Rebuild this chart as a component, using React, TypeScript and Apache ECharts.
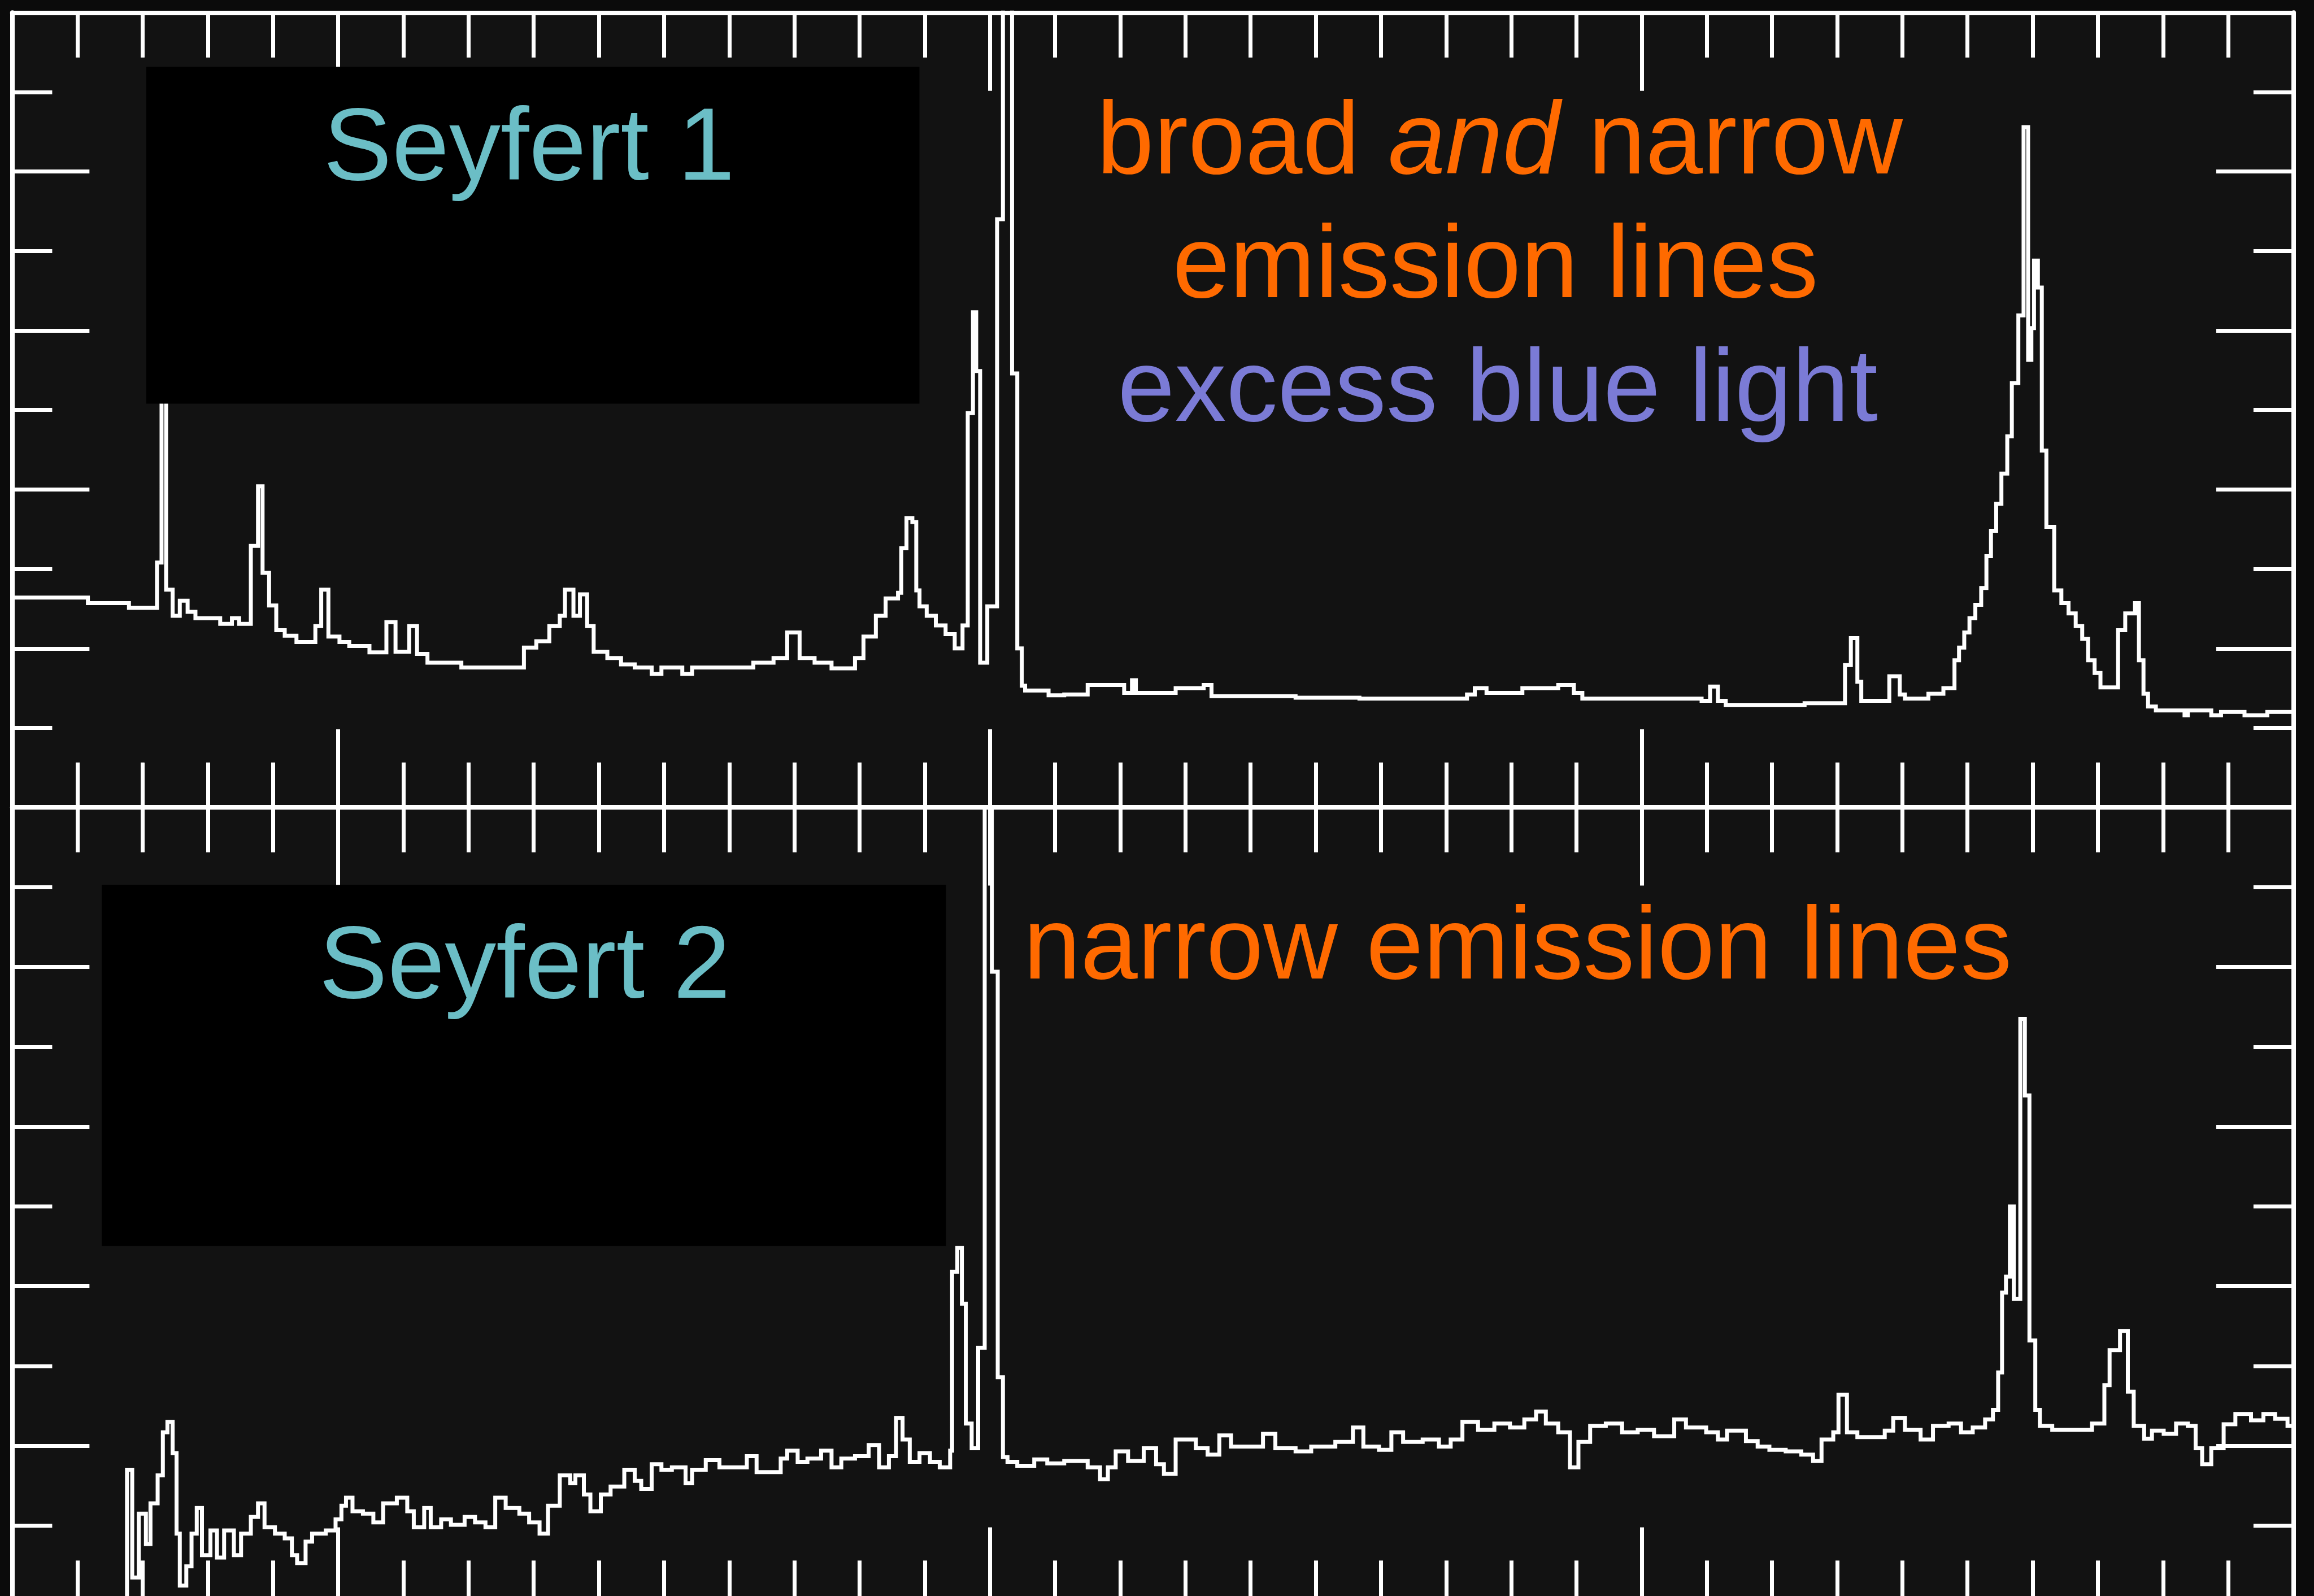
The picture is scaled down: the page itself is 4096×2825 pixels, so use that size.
import React, { useEffect, useRef } from 'react';
import * as echarts from 'echarts';

// ---- data: wavelength (Å) / relative flux (tick units) ----
const seyfert1Spectrum: [number, number][] = [
  [3500, 2.64], [3616, 2.57], [3679, 2.51], [3722, 3.08], [3729, 5.3], [3736, 2.74], [3746, 2.41],
  [3757, 2.6], [3769, 2.46], [3781, 2.38], [3819, 2.31], [3837, 2.38], [3848, 2.31], [3866, 3.29],
  [3877, 4.04], [3884, 2.95], [3894, 2.54], [3905, 2.23], [3918, 2.16], [3936, 2.08], [3965, 2.28],
  [3974, 2.74], [3985, 2.15], [4002, 2.08], [4017, 2.03], [4048, 1.95], [4074, 2.33], [4088, 1.96],
  [4109, 2.28], [4121, 1.93], [4137, 1.82], [4189, 1.76], [4285, 2.01], [4304, 2.09], [4324, 2.28],
  [4340, 2.41], [4348, 2.74], [4361, 2.41], [4371, 2.68], [4382, 2.28], [4392, 1.96], [4413, 1.88],
  [4434, 1.8], [4455, 1.76], [4481, 1.68], [4496, 1.76], [4528, 1.68], [4543, 1.76], [4637, 1.82],
  [4668, 1.88], [4689, 2.2], [4708, 1.88], [4731, 1.82], [4757, 1.75], [4793, 1.88], [4806, 2.15],
  [4825, 2.41], [4840, 2.63], [4859, 2.7], [4864, 3.26], [4872, 3.64], [4881, 3.59], [4887, 2.73],
  [4892, 2.53], [4903, 2.41], [4917, 2.29], [4932, 2.18], [4946, 2.0], [4958, 2.29], [4966, 4.96],
  [4974, 6.23], [4979, 5.49], [4985, 1.82], [4996, 2.53], [5011, 7.4], [5020, 10.5], [5034, 5.46],
  [5042, 2.0], [5049, 1.53], [5054, 1.47], [5090, 1.41], [5114, 1.42], [5150, 1.54], [5206, 1.44],
  [5218, 1.6], [5224, 1.44], [5285, 1.5], [5328, 1.54], [5340, 1.4], [5469, 1.38], [5567, 1.37],
  [5732, 1.42], [5744, 1.5], [5762, 1.44], [5817, 1.5], [5872, 1.54], [5896, 1.44], [5909, 1.37],
  [6092, 1.34], [6105, 1.52], [6117, 1.34], [6129, 1.29], [6250, 1.31], [6312, 1.79], [6321, 2.13],
  [6331, 1.58], [6337, 1.34], [6380, 1.65], [6396, 1.42], [6404, 1.37], [6440, 1.43], [6463, 1.5],
  [6480, 1.85], [6487, 2.01], [6495, 2.2], [6503, 2.38], [6512, 2.55], [6521, 2.76], [6529, 3.16],
  [6536, 3.48], [6544, 3.82], [6552, 4.2], [6561, 4.67], [6568, 5.34], [6578, 6.19], [6586, 8.56],
  [6593, 5.63], [6598, 6.03], [6602, 6.88], [6608, 6.54], [6614, 4.49], [6621, 3.53], [6633, 2.73],
  [6644, 2.57], [6655, 2.44], [6666, 2.28], [6676, 2.12], [6685, 1.85], [6695, 1.69], [6704, 1.51],
  [6731, 2.23], [6742, 2.44], [6757, 2.57], [6763, 1.85], [6770, 1.43], [6777, 1.27], [6789, 1.22],
  [6833, 1.16], [6838, 1.22], [6874, 1.16], [6889, 1.2], [6925, 1.16], [6960, 1.2], [7000, 1.18],
];

const seyfert2Spectrum: [number, number][] = [
  [3660, -0.2], [3676, 1.7], [3684, 0.35], [3694, 1.15], [3705, 0.77], [3712, 1.28], [3723, 1.63],
  [3731, 2.17], [3738, 2.3], [3746, 1.91], [3752, 0.9], [3757, 0.25], [3767, 0.49], [3775, 0.9],
  [3783, 1.22], [3791, 0.63], [3804, 0.94], [3814, 0.6], [3825, 0.94], [3840, 0.63], [3851, 0.9],
  [3866, 1.11], [3877, 1.28], [3887, 0.98], [3903, 0.9], [3918, 0.84], [3929, 0.63], [3937, 0.53],
  [3950, 0.8], [3960, 0.9], [3981, 0.94], [3996, 1.08], [4005, 1.25], [4012, 1.35], [4022, 1.18],
  [4038, 1.15], [4054, 1.04], [4069, 1.28], [4090, 1.35], [4106, 1.18], [4116, 0.98], [4132, 1.22],
  [4142, 0.98], [4158, 1.08], [4173, 1.01], [4194, 1.11], [4210, 1.04], [4226, 0.98], [4241, 1.35],
  [4257, 1.22], [4278, 1.15], [4293, 1.04], [4309, 0.9], [4322, 1.25], [4340, 1.63], [4356, 1.53],
  [4364, 1.63], [4377, 1.39], [4387, 1.18], [4403, 1.39], [4418, 1.49], [4439, 1.7], [4455, 1.56],
  [4465, 1.46], [4481, 1.77], [4496, 1.7], [4512, 1.73], [4533, 1.53], [4543, 1.7], [4564, 1.82],
  [4585, 1.73], [4627, 1.87], [4642, 1.67], [4679, 1.84], [4689, 1.94], [4705, 1.8], [4720, 1.84],
  [4741, 1.94], [4757, 1.73], [4772, 1.84], [4793, 1.87], [4814, 2.01], [4830, 1.73], [4845, 1.87],
  [4856, 2.35], [4866, 2.08], [4877, 1.8], [4892, 1.91], [4908, 1.8], [4923, 1.73], [4939, 1.94],
  [4942, 4.18], [4950, 4.48], [4957, 3.78], [4963, 2.28], [4972, 1.97], [4982, 3.23], [4992, 10.5],
  [5003, 7.94], [5012, 2.86], [5020, 1.86], [5027, 1.8], [5042, 1.75], [5068, 1.83], [5088, 1.78],
  [5114, 1.81], [5150, 1.73], [5169, 1.58], [5181, 1.73], [5193, 1.93], [5212, 1.81], [5236, 1.97],
  [5255, 1.77], [5267, 1.65], [5285, 2.08], [5316, 1.97], [5334, 1.89], [5352, 2.13], [5370, 1.99],
  [5419, 2.15], [5438, 1.97], [5469, 1.93], [5493, 1.99], [5530, 2.05], [5557, 2.23], [5573, 1.99],
  [5597, 1.95], [5616, 2.17], [5634, 2.05], [5664, 2.08], [5689, 1.99], [5707, 2.08], [5725, 2.3],
  [5749, 2.2], [5774, 2.28], [5798, 2.23], [5820, 2.33], [5838, 2.43], [5853, 2.28], [5872, 2.17],
  [5890, 1.73], [5903, 2.05], [5921, 2.25], [5945, 2.28], [5970, 2.17], [5994, 2.2], [6019, 2.12],
  [6050, 2.33], [6068, 2.23], [6099, 2.17], [6117, 2.08], [6131, 2.19], [6160, 2.06], [6178, 1.99],
  [6196, 1.95], [6221, 1.93], [6245, 1.89], [6263, 1.81], [6276, 2.08], [6294, 2.17], [6302, 2.64],
  [6315, 2.17], [6331, 2.11], [6373, 2.19], [6386, 2.35], [6404, 2.2], [6428, 2.08], [6447, 2.25],
  [6471, 2.28], [6490, 2.17], [6508, 2.23], [6527, 2.33], [6539, 2.45], [6547, 2.92], [6553, 3.92],
  [6559, 4.12], [6565, 5.0], [6571, 3.84], [6581, 7.35], [6588, 6.39], [6595, 3.32], [6604, 2.45],
  [6611, 2.25], [6630, 2.2], [6691, 2.28], [6710, 2.76], [6718, 3.2], [6734, 3.44], [6746, 2.68],
  [6755, 2.25], [6771, 2.09], [6783, 2.19], [6801, 2.15], [6820, 2.28], [6838, 2.25], [6850, 1.97],
  [6860, 1.77], [6874, 1.97], [6893, 2.27], [6911, 2.4], [6935, 2.32], [6954, 2.4], [6972, 2.34],
  [6991, 2.25], [7000, 2.25],
];

const waveRange = [3500, 7000];
const minorTickStep = 100;
const majorTickWavelengths = [4000, 5000, 6000];
const fluxRange = [0, 10];
const fluxTickStep = 2;

const panelTitles = ['Seyfert 1', 'Seyfert 2'];
const seyfert1Notes = ['broad ', 'and', ' narrow', 'emission lines', 'excess blue light'];
const seyfert2Note = 'narrow emission lines';

// ---- layout (reference px * scale) ----
const S = 4096 / 6959;
const px = (v: number) => v * S;

const WHITE = '#ffffff';
const ORANGE = '#FF6A00';
const PURPLE = '#7B7BD6';
const TEAL = '#6BBEC6';
const FONT_FAMILY = '"Liberation Sans", Arial, Helvetica, sans-serif';
const FS = 182;
const FRAME_W = 8;
const TICK_W = 7;
const SPEC_W = 7;

const gridLeft = px(37);
const gridWidth = px(6860);
const upperTop = px(38);
const upperHeight = px(2390);
const lowerTop = px(2428);
const lowerHeight = px(2400);

function makeXAxes(gridIndex: number) {
  const base = {
    type: 'value',
    gridIndex,
    min: waveRange[0],
    max: waveRange[1],
    axisLabel: { show: false },
    splitLine: { show: false },
  };
  const tickStyle = { color: WHITE, width: TICK_W };
  const out: any[] = [];
  (['bottom', 'top'] as const).forEach((position) => {
    out.push({
      ...base,
      position,
      interval: minorTickStep,
      axisLine: { show: true, onZero: false, lineStyle: { color: WHITE, width: FRAME_W } },
      axisTick: { show: true, inside: true, length: px(135), lineStyle: tickStyle },
    });
    out.push({
      ...base,
      position,
      axisLine: { show: false, onZero: false },
      axisTick: {
        show: true,
        inside: true,
        length: px(235),
        customValues: majorTickWavelengths,
        lineStyle: tickStyle,
      },
    });
  });
  return out;
}

function makeYAxes(gridIndex: number) {
  return (['left', 'right'] as const).map((position) => ({
    type: 'value',
    gridIndex,
    position,
    min: fluxRange[0],
    max: fluxRange[1],
    interval: fluxTickStep,
    axisLabel: { show: false },
    splitLine: { show: false },
    axisLine: { show: true, onZero: false, lineStyle: { color: WHITE, width: FRAME_W } },
    axisTick: { show: true, inside: true, length: px(232), lineStyle: { color: WHITE, width: TICK_W } },
    minorTick: { show: true, splitNumber: 2, length: px(120), lineStyle: { color: WHITE, width: TICK_W } },
    minorSplitLine: { show: false },
  }));
}

function textEl(text: string, cx: number, baseline: number, fill: string, extra: any = {}) {
  return {
    type: 'text',
    z: 60,
    x: cx,
    y: baseline - 0.3465 * FS,
    style: {
      text,
      fill,
      font: `${FS}px ${FONT_FAMILY}`,
      fontSize: FS,
      fontFamily: FONT_FAMILY,
      align: 'center',
      verticalAlign: 'middle',
      textAlign: 'center',
      textVerticalAlign: 'middle',
      ...extra,
    },
  };
}

export default function App() {
  const ref = useRef<HTMLDivElement>(null);

  useEffect(() => {
    if (!ref.current) return;
    const chart = echarts.init(ref.current, undefined, { renderer: 'svg' });

    const xAxis = [...makeXAxes(0), ...makeXAxes(1)];
    const yAxis = [...makeYAxes(0), ...makeYAxes(1)];

    const option: any = {
      animation: false,
      backgroundColor: '#0b0b0b',
      grid: [
        {
          left: gridLeft, top: upperTop, width: gridWidth, height: upperHeight,
          show: true, backgroundColor: '#121212', borderWidth: 0, outerBoundsMode: 'none', containLabel: false,
        },
        {
          left: gridLeft, top: lowerTop, width: gridWidth, height: lowerHeight,
          show: true, backgroundColor: '#121212', borderWidth: 0, outerBoundsMode: 'none', containLabel: false,
        },
      ],
      xAxis,
      yAxis,
      series: [
        {
          name: panelTitles[0],
          type: 'line',
          xAxisIndex: 0,
          yAxisIndex: 0,
          data: seyfert1Spectrum,
          step: 'end',
          symbol: 'none',
          showSymbol: false,
          silent: true,
          clip: true,
          z: 5,
          lineStyle: { color: WHITE, width: SPEC_W, join: 'miter' },
        },
        {
          name: panelTitles[1],
          type: 'line',
          xAxisIndex: 4,
          yAxisIndex: 2,
          data: seyfert2Spectrum,
          step: 'end',
          symbol: 'none',
          showSymbol: false,
          silent: true,
          clip: true,
          z: 5,
          lineStyle: { color: WHITE, width: SPEC_W, join: 'miter' },
        },
      ],
      graphic: [
        { type: 'rect', z: 50, shape: { x: px(440), y: px(201), width: px(2325), height: px(1013) }, style: { fill: '#000000' } },
        { type: 'rect', z: 50, shape: { x: px(306), y: px(2661), width: px(2539), height: px(1086) }, style: { fill: '#000000' } },
        textEl(panelTitles[0], px(1591), px(541), TEAL),
        textEl(panelTitles[1], px(1578), px(3000), TEAL),
        textEl(`{n|${seyfert1Notes[0]}}{i|${seyfert1Notes[1]}}{n|${seyfert1Notes[2]}}`, px(4510), px(521), ORANGE, {
          rich: {
            n: { fontSize: FS, fontFamily: FONT_FAMILY, fill: ORANGE },
            i: { fontSize: FS, fontFamily: FONT_FAMILY, fontStyle: 'italic', fill: ORANGE },
          },
        }),
        textEl(seyfert1Notes[3], px(4497), px(894), ORANGE),
        textEl(seyfert1Notes[4], px(4504), px(1266), PURPLE),
        textEl(seyfert2Note, px(4564), px(2942), ORANGE),
      ],
    };

    chart.setOption(option);
    return () => chart.dispose();
  }, []);

  return (
    <div
      ref={ref}
      style={{ position: 'fixed', left: 0, top: 0, width: 4096, height: 2825, background: '#0b0b0b' }}
    />
  );
}
